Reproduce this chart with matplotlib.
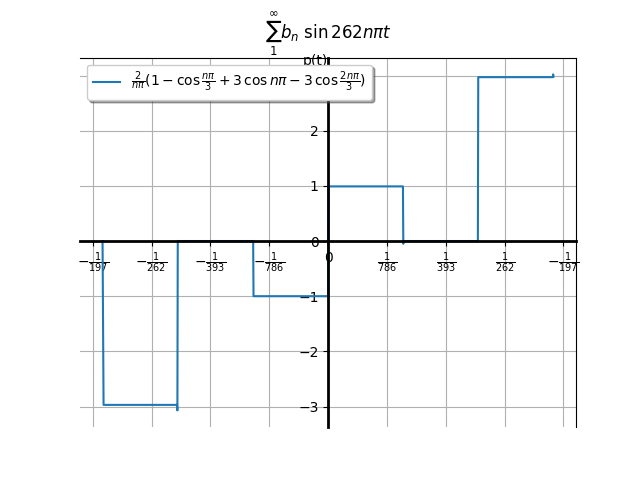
import matplotlib
matplotlib.use('Agg')
import matplotlib.pyplot as plt

# p(t) (seconds, value)
t = [-0.004874, -0.004852, -0.003266, -0.003258, -0.003250, -0.001622, -0.001614,
     -0.000004, 0.000004, 0.001612, 0.001620, 0.001628, 0.003230, 0.003238,
     0.004848, 0.004856, 0.004862]
p = [0.0, -2.97, -2.97, -3.07, 0.0, 0.0, -1.0,
     -1.0, 0.99, 0.99, -0.05, 0.0, 0.0, 2.97,
     2.97, 3.02, 2.98]

xtick_pos = [-1/197, -1/262, -1/393, -1/786, 0, 1/786, 1/393, 1/262, 1/197]
xtick_labels = [r'$-\frac{1}{197}$', r'$-\frac{1}{262}$', r'$-\frac{1}{393}$', r'$-\frac{1}{786}$',
                '0', r'$\frac{1}{786}$', r'$\frac{1}{393}$', r'$\frac{1}{262}$', r'$-\frac{1}{197}$']

fig, ax = plt.subplots(figsize=(6.4, 4.8), dpi=100)

label = r'$\frac{2}{n\pi}(1-\cos\frac{n\pi}{3}+3\,\cos n\pi-3\,\cos\frac{2n\pi}{3})$'
ax.plot(t, p, color='tab:blue', label=label)

# move axes through the origin
ax.spines['left'].set_position('zero')
ax.spines['bottom'].set_position('zero')
ax.spines['left'].set_linewidth(2)
ax.spines['bottom'].set_linewidth(2)

ax.set_xticks(xtick_pos)
ax.set_xticklabels(xtick_labels)
ax.grid(True)

ax.set_title(r'$\sum_{1}^{\infty} b_n\ \sin 262n\pi t$')
ax.set_ylabel('p(t)', rotation=0, ha='right', va='center')
ax.yaxis.set_label_coords(0.5, 0.99)

ax.legend(loc='upper left', shadow=True)

fig.savefig('out.png', dpi=100)
